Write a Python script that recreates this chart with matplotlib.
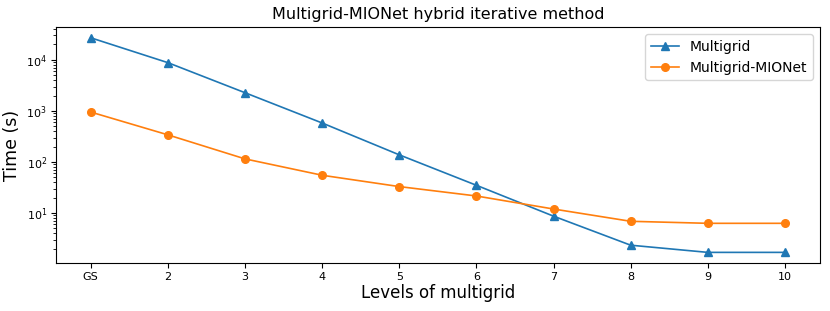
import numpy as np
import matplotlib
matplotlib.use('Agg')
import matplotlib.pyplot as plt

levels = ['GS', '2', '3', '4', '5', '6', '7', '8', '9', '10']
time_mg = [27000, 8800, 2270, 580, 138, 35, 8.7, 2.35, 1.7, 1.7]
time_mg_mionet = [950, 340, 115, 55, 33, 21.6, 12, 6.9, 6.3, 6.3]

fig = plt.figure(figsize=(8.3, 3.11), dpi=100)
ax = fig.add_axes([0.0675, 0.154, 0.92, 0.759])
x = np.arange(len(levels))
ax.plot(x, time_mg, '^-', color='#1f77b4', linewidth=1.2, markersize=5.5, label='Multigrid')
ax.plot(x, time_mg_mionet, 'o-', color='#ff7f0e', linewidth=1.2, markersize=5.5, label='Multigrid-MIONet')
ax.set_yscale('log')
ax.set_xticks(x)
ax.set_xticklabels(levels)
ax.tick_params(labelsize=8, pad=3)
ax.set_xlabel('Levels of multigrid', fontsize=12, labelpad=1)
ax.set_ylabel('Time (s)', fontsize=12.5)
ax.set_title('Multigrid-MIONet hybrid iterative method', fontsize=11.5)
ax.legend(fontsize=10)
fig.savefig('out.png', dpi=100)
